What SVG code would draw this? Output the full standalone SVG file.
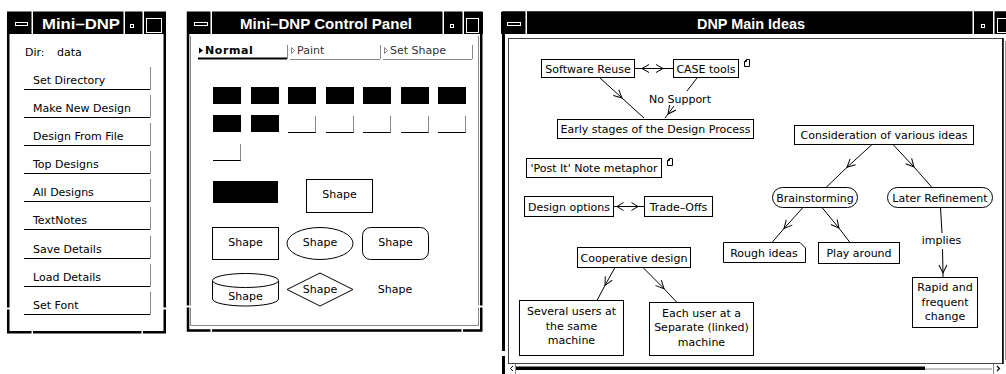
<svg xmlns="http://www.w3.org/2000/svg" width="1006" height="374" viewBox="0 0 1006 374">
  <style>
    .frame { fill: #fff; stroke: #000; stroke-width: 2.5; }
    .titlebar { fill: #000; }
    .sep { fill: #fff; }
    .ticon { fill: none; stroke: #fff; stroke-width: 1; }
    .title { font-family: "Liberation Sans", Arial, sans-serif; font-weight: bold; font-size: 15px; fill: #fff; text-anchor: middle; }
    .t { font-family: "DejaVu Sans", "Liberation Sans", sans-serif; font-size: 11px; fill: #000; }
    .c { text-anchor: middle; }
    .tabtxt { font-family: "DejaVu Sans", sans-serif; font-size: 11px; fill: #333; }
    .btnline { stroke: #000; stroke-width: 1; }
    .btnedge { stroke: #888; stroke-width: 1; }
    .box { fill: #fff; stroke: #000; stroke-width: 1; }
    .conn { fill: none; stroke: #000; stroke-width: 1; }
  </style>
  <defs>
    <marker id="vee" viewBox="-10 -6 12 12" refX="0" refY="0" markerWidth="12" markerHeight="12" markerUnits="userSpaceOnUse" orient="auto">
      <path d="M-8,-4 L0,0 L-8,4" fill="none" stroke="#000" stroke-width="1"/>
    </marker>
    <g id="swatch-empty">
      <line x1="0" y1="17.5" x2="28" y2="17.5" stroke="#000" stroke-width="1"/>
      <line x1="27.5" y1="1" x2="27.5" y2="17.5" stroke="#888" stroke-width="1"/>
    </g>
    <path id="note" d="M0.5,2.5 L2.5,0.5 L5.5,0.5 L5.5,7.5 L0.5,7.5 Z M0.5,2.5 L2.5,2.5 L2.5,0.5" fill="#fff" stroke="#000" stroke-width="1"/>
  </defs>

  <rect width="1006" height="374" fill="#fff"/>

  <!-- ===== Window 1: Mini-DNP ===== -->
  <g id="win-mini-dnp">
    <rect class="frame" x="8.25" y="12.75" width="156.5" height="319.5"/>
    <rect class="titlebar" x="7" y="12" width="159" height="22"/>
    <rect class="sep" x="31.5" y="11" width="1.5" height="23"/>
    <rect class="sep" x="123.5" y="11" width="1.5" height="23"/>
    <rect class="sep" x="142.5" y="11" width="1.5" height="23"/>
    <rect class="ticon" x="15.5" y="22.5" width="12" height="3"/>
    <rect class="ticon" x="130.5" y="24.5" width="3" height="3"/>
    <rect class="ticon" x="146.5" y="18.5" width="15" height="14"/>
    <text class="title" x="81" y="29" textLength="78" lengthAdjust="spacingAndGlyphs">Mini–DNP</text>
    <!-- resize corner gaps -->
    <rect class="sep" x="31.5" y="329" width="1.5" height="6"/>
    <rect class="sep" x="141.5" y="329" width="1.5" height="6"/>
    <rect class="sep" x="5" y="307.5" width="6" height="2"/>
    <rect class="sep" x="162" y="307.5" width="6" height="2"/>

    <text class="t" x="25" y="56">Dir:</text>
    <text class="t" x="57" y="56">data</text>

    <g id="btn-set-directory">
      <line class="btnline" x1="24" y1="89.5" x2="150" y2="89.5"/>
      <line class="btnedge" x1="150.5" y1="67" x2="150.5" y2="89.5"/>
      <text class="t" x="33" y="83.5">Set Directory</text>
    </g>
    <g id="btn-make-new-design">
      <line class="btnline" x1="24" y1="117.5" x2="150" y2="117.5"/>
      <line class="btnedge" x1="150.5" y1="95" x2="150.5" y2="117.5"/>
      <text class="t" x="33" y="111.5">Make New Design</text>
    </g>
    <g id="btn-design-from-file">
      <line class="btnline" x1="24" y1="145.5" x2="150" y2="145.5"/>
      <line class="btnedge" x1="150.5" y1="123" x2="150.5" y2="145.5"/>
      <text class="t" x="33" y="139.5">Design From File</text>
    </g>
    <g id="btn-top-designs">
      <line class="btnline" x1="24" y1="173.5" x2="150" y2="173.5"/>
      <line class="btnedge" x1="150.5" y1="151" x2="150.5" y2="173.5"/>
      <text class="t" x="33" y="167.5">Top Designs</text>
    </g>
    <g id="btn-all-designs">
      <line class="btnline" x1="24" y1="201.5" x2="150" y2="201.5"/>
      <line class="btnedge" x1="150.5" y1="179" x2="150.5" y2="201.5"/>
      <text class="t" x="33" y="195.5">All Designs</text>
    </g>
    <g id="btn-textnotes">
      <line class="btnline" x1="24" y1="229.5" x2="150" y2="229.5"/>
      <line class="btnedge" x1="150.5" y1="207" x2="150.5" y2="229.5"/>
      <text class="t" x="33" y="223.5">TextNotes</text>
    </g>
    <g id="btn-save-details">
      <line class="btnline" x1="24" y1="258.5" x2="150" y2="258.5"/>
      <line class="btnedge" x1="150.5" y1="236" x2="150.5" y2="258.5"/>
      <text class="t" x="33" y="252.5">Save Details</text>
    </g>
    <g id="btn-load-details">
      <line class="btnline" x1="24" y1="286.5" x2="150" y2="286.5"/>
      <line class="btnedge" x1="150.5" y1="264" x2="150.5" y2="286.5"/>
      <text class="t" x="33" y="280.5">Load Details</text>
    </g>
    <g id="btn-set-font">
      <line class="btnline" x1="24" y1="314.5" x2="150" y2="314.5"/>
      <line class="btnedge" x1="150.5" y1="292" x2="150.5" y2="314.5"/>
      <text class="t" x="33" y="308.5">Set Font</text>
    </g>
  </g>

  <!-- ===== Window 2: Mini-DNP Control Panel ===== -->
  <g id="win-control-panel">
    <rect class="frame" x="188" y="12.75" width="293.25" height="317.75"/>
    <path d="M190.5,36 V325.5 H478.5 V36" fill="none" stroke="#888" stroke-width="1"/>
    <rect class="titlebar" x="187" y="12" width="296" height="22"/>
    <rect class="sep" x="210.5" y="11" width="1.5" height="23"/>
    <rect class="sep" x="442.5" y="11" width="1.5" height="23"/>
    <rect class="sep" x="462.5" y="11" width="1.5" height="23"/>
    <rect class="ticon" x="194.5" y="22.5" width="13" height="3"/>
    <rect class="ticon" x="450.5" y="24.5" width="3" height="3"/>
    <rect class="ticon" x="466.5" y="18.5" width="12" height="14"/>
    <text class="title" x="326" y="29" textLength="172" lengthAdjust="spacingAndGlyphs">Mini–DNP Control Panel</text>
    <rect class="sep" x="210.5" y="326" width="1.5" height="7"/>
    <rect class="sep" x="461.5" y="326" width="1.5" height="7"/>
    <rect class="sep" x="185" y="305.5" width="7" height="2"/>
    <rect class="sep" x="477" y="305.5" width="8" height="2"/>

    <!-- tabs -->
    <g id="tab-normal">
      <path d="M199,47.5 L203,50.5 L199,53.5 Z" fill="#000"/>
      <text x="205" y="54" style="font-family:'DejaVu Sans',sans-serif;font-size:11px;font-weight:bold;letter-spacing:0.6px" fill="#000">Normal</text>
      <line x1="198" y1="58.5" x2="287" y2="58.5" stroke="#000" stroke-width="2"/>
      <line x1="287.5" y1="45" x2="287.5" y2="59" stroke="#888" stroke-width="1"/>
    </g>
    <g id="tab-paint">
      <path d="M291.5,47.5 L294.5,50.5 L291.5,53.5 Z" fill="none" stroke="#666" stroke-width="0.8"/>
      <text class="tabtxt" x="297" y="54">Paint</text>
      <line x1="290" y1="59.5" x2="380" y2="59.5" stroke="#888" stroke-width="1"/>
      <line x1="380.5" y1="45" x2="380.5" y2="59" stroke="#888" stroke-width="1"/>
    </g>
    <g id="tab-set-shape">
      <path d="M384.5,47.5 L387.5,50.5 L384.5,53.5 Z" fill="none" stroke="#666" stroke-width="0.8"/>
      <text class="tabtxt" x="390" y="54">Set Shape</text>
      <line x1="383" y1="59.5" x2="472" y2="59.5" stroke="#888" stroke-width="1"/>
      <line x1="472.5" y1="45" x2="472.5" y2="59" stroke="#888" stroke-width="1"/>
    </g>

    <!-- colour swatches -->
    <g id="swatches" fill="#000">
      <rect x="213" y="87" width="28" height="17"/>
      <rect x="251" y="87" width="28" height="17"/>
      <rect x="288" y="87" width="28" height="17"/>
      <rect x="326" y="87" width="28" height="17"/>
      <rect x="363" y="87" width="28" height="17"/>
      <rect x="401" y="87" width="28" height="17"/>
      <rect x="438" y="87" width="28" height="17"/>
      <rect x="213" y="115" width="28" height="17"/>
      <rect x="251" y="115" width="28" height="17"/>
      <use href="#swatch-empty" x="288" y="115"/>
      <use href="#swatch-empty" x="326" y="115"/>
      <use href="#swatch-empty" x="363" y="115"/>
      <use href="#swatch-empty" x="401" y="115"/>
      <use href="#swatch-empty" x="438" y="115"/>
      <use href="#swatch-empty" x="213" y="143"/>
    </g>

    <!-- shape palette -->
    <rect id="shape-filled" x="213" y="181" width="65" height="22" fill="#000"/>
    <g id="shape-rect-big">
      <rect class="box" x="306.5" y="179.5" width="66" height="33"/>
      <text class="t c" x="339.5" y="198">Shape</text>
    </g>
    <g id="shape-rect">
      <rect class="box" x="212.5" y="227.5" width="66" height="32"/>
      <text class="t c" x="245.5" y="246">Shape</text>
    </g>
    <g id="shape-ellipse">
      <ellipse class="box" cx="320" cy="243.5" rx="33" ry="16"/>
      <text class="t c" x="320" y="246">Shape</text>
    </g>
    <g id="shape-rounded">
      <rect class="box" x="362.5" y="227.5" width="66" height="32" rx="8" ry="8"/>
      <text class="t c" x="395.5" y="246">Shape</text>
    </g>
    <g id="shape-cylinder">
      <path class="box" d="M212.5,280.5 V299 A33,7 0 0 0 278.5,299 V280.5"/>
      <ellipse class="box" cx="245.5" cy="280.5" rx="33" ry="7"/>
      <text class="t c" x="245.5" y="300">Shape</text>
    </g>
    <g id="shape-diamond">
      <path class="box" d="M287,289.5 L320,273 L353,289.5 L320,306 Z"/>
      <text class="t c" x="320" y="292.5">Shape</text>
    </g>
    <g id="shape-plain">
      <text class="t c" x="395" y="292.5">Shape</text>
    </g>
  </g>

  <!-- ===== Window 3: DNP Main Ideas ===== -->
  <g id="win-main-ideas">
    <path d="M503.5,380 V12.75 H1010" fill="none" stroke="#000" stroke-width="3"/>
    <rect class="titlebar" x="501" y="12" width="510" height="22"/>
    <rect class="sep" x="525.5" y="11" width="1.5" height="23"/>
    <rect class="sep" x="972.5" y="11" width="1.5" height="23"/>
    <rect class="sep" x="993" y="11" width="1.5" height="23"/>
    <rect class="ticon" x="507.5" y="22.5" width="13" height="3"/>
    <rect class="ticon" x="981.5" y="24.5" width="3" height="3"/>
    <rect class="ticon" x="997.5" y="18.5" width="12" height="14"/>
    <text class="title" x="751" y="29" textLength="108" lengthAdjust="spacingAndGlyphs">DNP Main Ideas</text>
    <rect class="sep" x="500" y="351" width="7" height="5"/>

    <!-- canvas -->
    <rect x="508.5" y="38.5" width="494" height="325" fill="#fff" stroke="#444" stroke-width="1"/>
    <line x1="1003" y1="38" x2="1003" y2="364" stroke="#000" stroke-width="1.5"/>
    <line x1="1005.5" y1="41" x2="1005.5" y2="360" stroke="#999" stroke-width="1"/>

    <!-- horizontal scrollbar -->
    <g id="hscroll">
      <path d="M513,366 L510.5,368.5 L513,371" fill="none" stroke="#000" stroke-width="1"/>
      <line x1="515.5" y1="364" x2="515.5" y2="374" stroke="#888" stroke-width="1"/>
      <rect x="516" y="366.5" width="409" height="3.5" fill="#000"/>
      <line x1="925" y1="369" x2="992" y2="369" stroke="#888" stroke-width="1"/>
      <line x1="993.5" y1="364" x2="993.5" y2="374" stroke="#888" stroke-width="1"/>
      <path d="M997,366 L999.5,368.5 L997,371" fill="none" stroke="#000" stroke-width="1.2"/>
    </g>
  </g>

  <!-- ===== Idea map nodes ===== -->
  <g id="node-software-reuse">
    <rect class="box" x="541.5" y="59.5" width="93" height="18"/>
    <text class="t c" x="588" y="72.5">Software Reuse</text>
  </g>
  <g id="node-case-tools">
    <rect class="box" x="673.5" y="59.5" width="65" height="18"/>
    <text class="t c" x="706" y="72.5">CASE tools</text>
    <use href="#note" x="744" y="59"/>
  </g>
  <g id="node-early-stages">
    <rect class="box" x="557.5" y="119.5" width="196" height="19"/>
    <text class="t c" x="655.5" y="133">Early stages of the Design Process</text>
  </g>
  <g id="node-post-it">
    <rect class="box" x="526.5" y="158.5" width="135" height="19"/>
    <text class="t c" x="594" y="172">'Post It' Note metaphor</text>
    <use href="#note" x="667" y="158"/>
  </g>
  <g id="node-design-options">
    <rect class="box" x="524.5" y="196.5" width="89" height="20"/>
    <text class="t c" x="569" y="211">Design options</text>
  </g>
  <g id="node-trade-offs">
    <rect class="box" x="644.5" y="196.5" width="68" height="20"/>
    <text class="t c" x="678.5" y="211">Trade–Offs</text>
  </g>
  <g id="node-cooperative">
    <rect class="box" x="577.5" y="247.5" width="113" height="20"/>
    <text class="t c" x="634" y="262">Cooperative design</text>
  </g>
  <g id="node-several-users">
    <rect class="box" x="519.5" y="300.5" width="104" height="55"/>
    <text class="t c" x="571.5" y="315">Several users at</text>
    <text class="t c" x="571.5" y="329.5">the same</text>
    <text class="t c" x="571.5" y="344">machine</text>
  </g>
  <g id="node-each-user">
    <rect class="box" x="649.5" y="302.5" width="104" height="53"/>
    <text class="t c" x="701.5" y="316.5">Each user at a</text>
    <text class="t c" x="701.5" y="331">Separate (linked)</text>
    <text class="t c" x="701.5" y="345.5">machine</text>
  </g>
  <g id="node-consideration">
    <rect class="box" x="794.5" y="125.5" width="179" height="19"/>
    <text class="t c" x="884" y="139">Consideration of various ideas</text>
  </g>
  <g id="node-brainstorming">
    <rect class="box" x="772.5" y="187.5" width="85" height="20" rx="10" ry="10"/>
    <text class="t c" x="815" y="201.5">Brainstorming</text>
  </g>
  <g id="node-later-refinement">
    <rect class="box" x="887.5" y="187.5" width="105" height="20" rx="10" ry="10"/>
    <text class="t c" x="940" y="201.5">Later Refinement</text>
  </g>
  <g id="node-rough-ideas">
    <path class="box" d="M723.5,242.5 H800 L805.5,248 V262.5 H723.5 Z"/>
    <text class="t c" x="764" y="256.5">Rough ideas</text>
  </g>
  <g id="node-play-around">
    <rect class="box" x="818.5" y="242.5" width="81" height="21"/>
    <text class="t c" x="859" y="256.5">Play around</text>
  </g>
  <g id="node-rapid-change">
    <rect class="box" x="912.5" y="277.5" width="65" height="50"/>
    <text class="t c" x="945" y="291">Rapid and</text>
    <text class="t c" x="945" y="305.5">frequent</text>
    <text class="t c" x="945" y="320">change</text>
  </g>

  <!-- ===== Connectors ===== -->
  <g id="connectors" class="conn">
    <!-- Software Reuse <-> CASE tools -->
    <line class="conn" x1="634.5" y1="68.5" x2="673.5" y2="68.5"/>
    <path class="conn" d="M649,64.5 L642,68.5 L649,72.5"/>
    <path class="conn" d="M656,64.5 L663,68.5 L656,72.5"/>
    <!-- Software Reuse -> Early stages -->
    <polyline class="conn" points="600,78 622,98 644,118" marker-mid="url(#vee)"/>
    <!-- CASE tools -> Early stages, labelled -->
    <line class="conn" x1="697" y1="78" x2="687" y2="91"/>
    <text class="t c" x="680" y="102.5" stroke="none">No Support</text>
    <polyline class="conn" points="674,106 668,114 665,118" marker-mid="url(#vee)"/>
    <!-- Design options <-> Trade-Offs -->
    <line class="conn" x1="613.5" y1="206.5" x2="644.5" y2="206.5"/>
    <path class="conn" d="M623.5,202.5 L617,206.5 L623.5,210.5"/>
    <path class="conn" d="M631.5,202.5 L638,206.5 L631.5,210.5"/>
    <!-- Cooperative design -> machines -->
    <polyline class="conn" points="615,267.5 605,285.3 597,300.5" marker-mid="url(#vee)"/>
    <polyline class="conn" points="643,267.5 664,288.6 677,302.5" marker-mid="url(#vee)"/>
    <!-- Consideration -> Brainstorming / Later Refinement -->
    <polyline class="conn" points="872,144.5 847,167.3 826,187.5" marker-mid="url(#vee)"/>
    <polyline class="conn" points="893,144.5 914,167 932,187.5" marker-mid="url(#vee)"/>
    <!-- Brainstorming -> Rough ideas / Play around -->
    <polyline class="conn" points="803,207.5 784,228.5 772,242.5" marker-mid="url(#vee)"/>
    <polyline class="conn" points="822,207.5 839,228.2 850,242.5" marker-mid="url(#vee)"/>
    <!-- Later Refinement -> Rapid change, labelled -->
    <line class="conn" x1="940.5" y1="207.5" x2="942" y2="233"/>
    <text class="t c" x="941.5" y="243.5" stroke="none">implies</text>
    <polyline class="conn" points="942.5,249 943,273 943,277.5" marker-mid="url(#vee)"/>
  </g>
</svg>
